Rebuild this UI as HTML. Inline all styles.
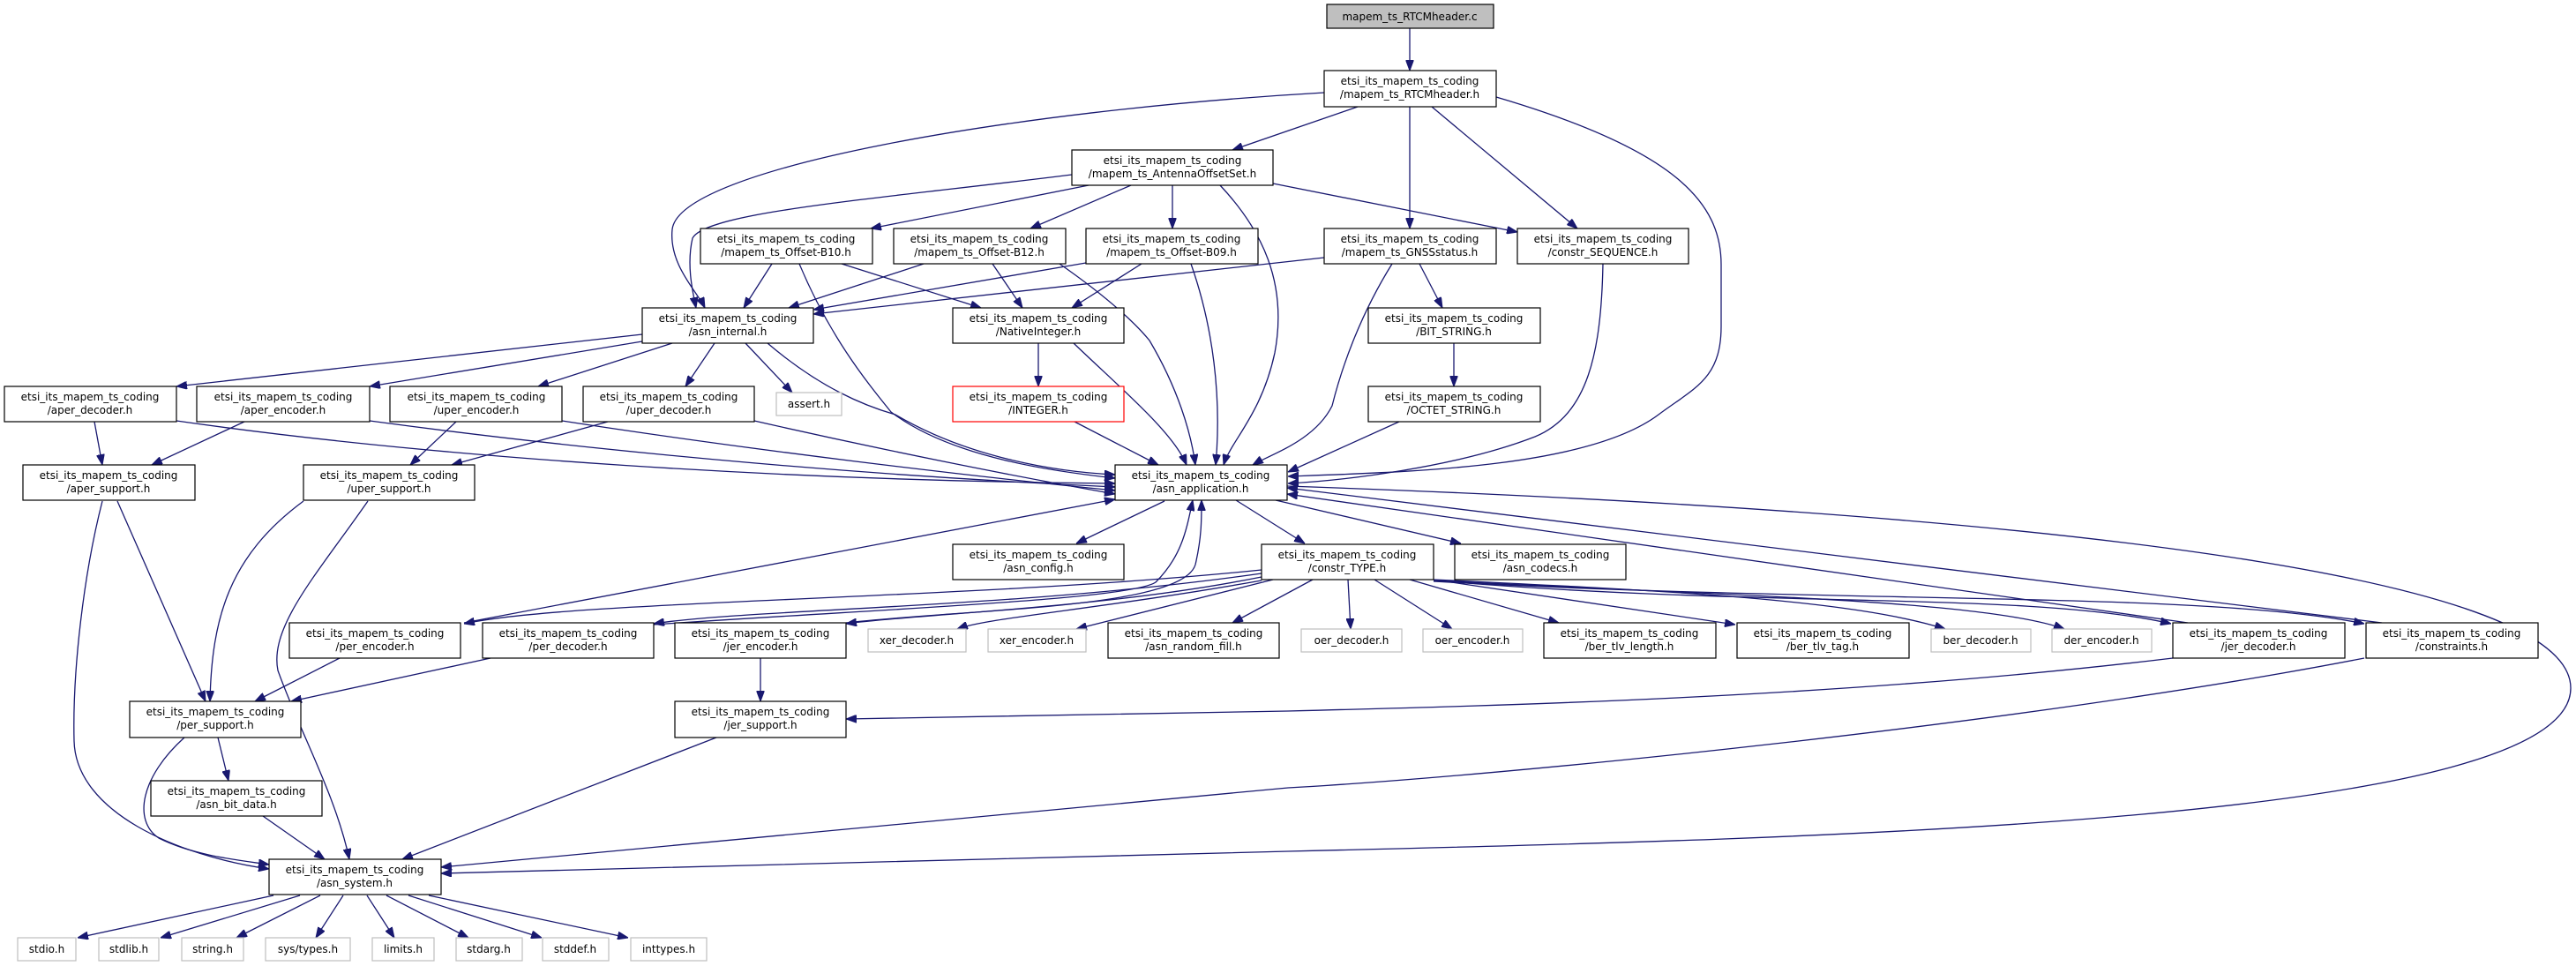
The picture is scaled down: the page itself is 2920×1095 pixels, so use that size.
<!DOCTYPE html>
<html><head><meta charset="utf-8"><style>
html,body{margin:0;padding:0;background:#fff;}
svg{display:block;}
text{font-family:"DejaVu Sans","Liberation Sans",sans-serif;font-size:12px;fill:#000;text-anchor:middle;}
.n{fill:#fff;stroke:#000;stroke-width:1.2;}
.l{fill:#fff;stroke:#bfbfbf;stroke-width:1.2;}
.e{fill:none;stroke:#191970;stroke-width:1.3;marker-end:url(#a);}
</style></head><body>
<svg width="2920" height="1095" viewBox="0 0 2920 1095" xmlns="http://www.w3.org/2000/svg">
<defs><marker id="a" markerUnits="userSpaceOnUse" markerWidth="12" markerHeight="9" refX="12" refY="4.5" orient="auto"><path d="M0,0 L12,4.5 L0,9 z" fill="#191970" stroke="#191970"/></marker></defs>

<!-- edges -->
<path class="e" d="M1598,32 L1598,80"/>
<path class="e" d="M1539,121 L1397,170"/>
<path class="e" d="M1501,105 C1150,125 770,190 762,260 C758,300 790,330 799,349"/>
<path class="e" d="M1598,121 L1598,259"/>
<path class="e" d="M1623,121 L1788,259"/>
<path class="e" d="M1696,110 C1900,170 1951,230 1951,300 L1951,370 C1951,430 1920,440 1880,470 C1800,530 1600,535 1460,540"/>
<path class="e" d="M1215,198 C1000,225 800,240 785,270 C778,300 785,330 789,349"/>
<path class="e" d="M1234,210 L987,259"/>
<path class="e" d="M1282,210 L1168,259"/>
<path class="e" d="M1329,210 L1329,259"/>
<path class="e" d="M1443,208 L1720,263"/>
<path class="e" d="M1383,210 C1430,260 1460,320 1445,400 C1430,470 1395,500 1387,527"/>
<path class="e" d="M875,299 L843,349"/>
<path class="e" d="M954,299 L1112,349"/>
<path class="e" d="M906,299 C940,380 980,430 1010,467 C1080,520 1200,535 1264,542"/>
<path class="e" d="M1047,299 L894,349"/>
<path class="e" d="M1125,299 L1159,349"/>
<path class="e" d="M1201,299 C1260,340 1290,370 1303,386 C1335,440 1350,490 1355,527"/>
<path class="e" d="M1231,298 L922,351"/>
<path class="e" d="M1294,299 L1215,349"/>
<path class="e" d="M1350,299 C1375,370 1385,450 1378,527"/>
<path class="e" d="M1501,292 L922,356"/>
<path class="e" d="M1609,299 L1635,349"/>
<path class="e" d="M1578,299 C1540,360 1520,420 1510,460 C1490,500 1440,515 1420,527"/>
<path class="e" d="M1817,299 C1815,400 1800,470 1740,495 C1650,530 1520,545 1460,548"/>
<path class="e" d="M1648,389 L1648,438"/>
<path class="e" d="M1586,478 L1460,535"/>
<path class="e" d="M728,379 L200,438"/>
<path class="e" d="M728,387 L419,438"/>
<path class="e" d="M762,389 L610,438"/>
<path class="e" d="M810,389 L777,438"/>
<path class="e" d="M845,389 L898,445"/>
<path class="e" d="M870,389 C930,440 980,460 1015,470 C1100,520 1200,535 1264,538"/>
<path class="e" d="M1177,389 L1177,438"/>
<path class="e" d="M1217,389 C1270,440 1330,490 1345,527"/>
<path class="e" d="M1218,478 L1313,527"/>
<path class="e" d="M107,478 L116,527"/>
<path class="e" d="M200,477 C500,520 900,545 1264,548"/>
<path class="e" d="M277,478 L172,527"/>
<path class="e" d="M419,477 C700,515 1000,540 1264,552"/>
<path class="e" d="M517,478 L465,527"/>
<path class="e" d="M637,477 C850,510 1100,540 1264,556"/>
<path class="e" d="M689,478 L512,527"/>
<path class="e" d="M855,477 C1000,510 1150,540 1264,560"/>
<path class="e" d="M133,568 L233,795"/>
<path class="e" d="M116,568 C95,650 82,760 84,840 C86,920 200,970 305,985"/>
<path class="e" d="M344,568 C260,630 240,700 238,795"/>
<path class="e" d="M417,568 C360,650 305,710 315,760 C340,830 380,900 396,974"/>
<path class="e" d="M1320,568 L1220,616"/>
<path class="e" d="M1401,567 L1479,616"/>
<path class="e" d="M1446,567 L1656,616"/>
<path class="e" d="M1459,551 C2300,580 2914,650 2914,780 C2914,930 2100,950 1460,965 C1000,975 700,985 500,990"/>
<path class="e" d="M526,706 L1264,566"/>
<path class="e" d="M741,708 C1000,690 1280,680 1310,660 C1340,630 1345,600 1352,567"/>
<path class="e" d="M959,706 C1100,690 1340,690 1355,640 C1362,610 1362,590 1362,567"/>
<path class="e" d="M2480,706 L1459,560"/>
<path class="e" d="M2700,706 L1459,553"/>
<path class="e" d="M1430,646 C1100,680 650,680 526,707"/>
<path class="e" d="M1430,650 C1150,690 850,690 741,707"/>
<path class="e" d="M1430,654 C1250,690 1050,695 959,707"/>
<path class="e" d="M1430,658 C1250,690 1120,700 1085,713"/>
<path class="e" d="M1443,657 L1220,713"/>
<path class="e" d="M1488,657 L1397,706"/>
<path class="e" d="M1528,657 L1531,713"/>
<path class="e" d="M1558,657 L1646,713"/>
<path class="e" d="M1598,657 L1767,706"/>
<path class="e" d="M1625,657 L1967,708"/>
<path class="e" d="M1625,657 C1900,670 2100,680 2205,713"/>
<path class="e" d="M1625,658 C1950,675 2250,680 2340,713"/>
<path class="e" d="M1625,658 C2000,690 2300,670 2461,707"/>
<path class="e" d="M1625,659 C2100,685 2500,670 2680,707"/>
<path class="e" d="M385,746 L289,795"/>
<path class="e" d="M556,746 L330,795"/>
<path class="e" d="M862,746 L862,795"/>
<path class="e" d="M2463,746 C2100,790 1700,800 1460,806 L959,815"/>
<path class="e" d="M247,836 L259,885"/>
<path class="e" d="M209,836 C160,880 150,930 180,950 C220,970 270,975 305,980"/>
<path class="e" d="M298,925 L368,974"/>
<path class="e" d="M812,836 L456,974"/>
<path class="e" d="M2680,746 C2300,820 1700,880 1460,893 L500,983"/>
<path class="e" d="M310,1015 L88,1063"/>
<path class="e" d="M340,1015 L182,1063"/>
<path class="e" d="M363,1015 L268,1063"/>
<path class="e" d="M389,1015 L358,1063"/>
<path class="e" d="M416,1015 L447,1063"/>
<path class="e" d="M438,1015 L531,1063"/>
<path class="e" d="M463,1015 L614,1063"/>
<path class="e" d="M486,1015 L712,1063"/>

<!-- nodes -->
<rect x="1504" y="5" width="189" height="27" fill="#bfbfbf" stroke="#000" stroke-width="1.2"/><text x="1598" y="23">mapem_ts_RTCMheader.c</text>

<rect class="n" x="1501" y="80" width="195" height="41"/><text x="1598" y="96">etsi_its_mapem_ts_coding</text><text x="1598" y="111">/mapem_ts_RTCMheader.h</text>
<rect class="n" x="1215" y="170" width="228" height="40"/><text x="1329" y="186">etsi_its_mapem_ts_coding</text><text x="1329" y="201">/mapem_ts_AntennaOffsetSet.h</text>
<rect class="n" x="794" y="259" width="195" height="40"/><text x="891" y="275">etsi_its_mapem_ts_coding</text><text x="891" y="290">/mapem_ts_Offset-B10.h</text>
<rect class="n" x="1013" y="259" width="195" height="40"/><text x="1110" y="275">etsi_its_mapem_ts_coding</text><text x="1110" y="290">/mapem_ts_Offset-B12.h</text>
<rect class="n" x="1231" y="259" width="195" height="40"/><text x="1328" y="275">etsi_its_mapem_ts_coding</text><text x="1328" y="290">/mapem_ts_Offset-B09.h</text>
<rect class="n" x="1501" y="259" width="195" height="40"/><text x="1598" y="275">etsi_its_mapem_ts_coding</text><text x="1598" y="290">/mapem_ts_GNSSstatus.h</text>
<rect class="n" x="1720" y="259" width="194" height="40"/><text x="1817" y="275">etsi_its_mapem_ts_coding</text><text x="1817" y="290">/constr_SEQUENCE.h</text>
<rect class="n" x="728" y="349" width="194" height="40"/><text x="825" y="365">etsi_its_mapem_ts_coding</text><text x="825" y="380">/asn_internal.h</text>
<rect class="n" x="1080" y="349" width="194" height="40"/><text x="1177" y="365">etsi_its_mapem_ts_coding</text><text x="1177" y="380">/NativeInteger.h</text>
<rect class="n" x="1551" y="349" width="195" height="40"/><text x="1648" y="365">etsi_its_mapem_ts_coding</text><text x="1648" y="380">/BIT_STRING.h</text>
<rect class="n" x="5" y="438" width="195" height="40"/><text x="102" y="454">etsi_its_mapem_ts_coding</text><text x="102" y="469">/aper_decoder.h</text>
<rect class="n" x="223" y="438" width="196" height="40"/><text x="321" y="454">etsi_its_mapem_ts_coding</text><text x="321" y="469">/aper_encoder.h</text>
<rect class="n" x="442" y="438" width="195" height="40"/><text x="540" y="454">etsi_its_mapem_ts_coding</text><text x="540" y="469">/uper_encoder.h</text>
<rect class="n" x="661" y="438" width="194" height="40"/><text x="758" y="454">etsi_its_mapem_ts_coding</text><text x="758" y="469">/uper_decoder.h</text>
<rect class="l" x="880" y="445" width="74" height="26"/><text x="917" y="462">assert.h</text>
<rect x="1080" y="438" width="194" height="40" fill="#fff" stroke="#ff0000" stroke-width="1.2"/><text x="1177" y="454">etsi_its_mapem_ts_coding</text><text x="1177" y="469">/INTEGER.h</text>
<rect class="n" x="1551" y="438" width="195" height="40"/><text x="1648" y="454">etsi_its_mapem_ts_coding</text><text x="1648" y="469">/OCTET_STRING.h</text>
<rect class="n" x="26" y="527" width="195" height="40"/><text x="123" y="543">etsi_its_mapem_ts_coding</text><text x="123" y="558">/aper_support.h</text>
<rect class="n" x="344" y="527" width="194" height="40"/><text x="441" y="543">etsi_its_mapem_ts_coding</text><text x="441" y="558">/uper_support.h</text>
<rect class="n" x="1264" y="527" width="195" height="40"/><text x="1361" y="543">etsi_its_mapem_ts_coding</text><text x="1361" y="558">/asn_application.h</text>
<rect class="n" x="1080" y="617" width="194" height="40"/><text x="1177" y="633">etsi_its_mapem_ts_coding</text><text x="1177" y="648">/asn_config.h</text>
<rect class="n" x="1430" y="617" width="195" height="40"/><text x="1527" y="633">etsi_its_mapem_ts_coding</text><text x="1527" y="648">/constr_TYPE.h</text>
<rect class="n" x="1649" y="617" width="194" height="40"/><text x="1746" y="633">etsi_its_mapem_ts_coding</text><text x="1746" y="648">/asn_codecs.h</text>
<rect class="n" x="328" y="706" width="194" height="40"/><text x="425" y="722">etsi_its_mapem_ts_coding</text><text x="425" y="737">/per_encoder.h</text>
<rect class="n" x="547" y="706" width="194" height="40"/><text x="644" y="722">etsi_its_mapem_ts_coding</text><text x="644" y="737">/per_decoder.h</text>
<rect class="n" x="765" y="706" width="194" height="40"/><text x="862" y="722">etsi_its_mapem_ts_coding</text><text x="862" y="737">/jer_encoder.h</text>
<rect class="l" x="984" y="713" width="111" height="26"/><text x="1039" y="730">xer_decoder.h</text>
<rect class="l" x="1120" y="713" width="111" height="26"/><text x="1175" y="730">xer_encoder.h</text>
<rect class="n" x="1256" y="706" width="194" height="40"/><text x="1353" y="722">etsi_its_mapem_ts_coding</text><text x="1353" y="737">/asn_random_fill.h</text>
<rect class="l" x="1475" y="713" width="114" height="26"/><text x="1532" y="730">oer_decoder.h</text>
<rect class="l" x="1613" y="713" width="113" height="26"/><text x="1669" y="730">oer_encoder.h</text>
<rect class="n" x="1750" y="706" width="195" height="40"/><text x="1847" y="722">etsi_its_mapem_ts_coding</text><text x="1847" y="737">/ber_tlv_length.h</text>
<rect class="n" x="1969" y="706" width="195" height="40"/><text x="2066" y="722">etsi_its_mapem_ts_coding</text><text x="2066" y="737">/ber_tlv_tag.h</text>
<rect class="l" x="2189" y="713" width="113" height="26"/><text x="2245" y="730">ber_decoder.h</text>
<rect class="l" x="2326" y="713" width="113" height="26"/><text x="2382" y="730">der_encoder.h</text>
<rect class="n" x="2463" y="706" width="195" height="40"/><text x="2560" y="722">etsi_its_mapem_ts_coding</text><text x="2560" y="737">/jer_decoder.h</text>
<rect class="n" x="2682" y="706" width="195" height="40"/><text x="2779" y="722">etsi_its_mapem_ts_coding</text><text x="2779" y="737">/constraints.h</text>
<rect class="n" x="147" y="795" width="194" height="41"/><text x="244" y="811">etsi_its_mapem_ts_coding</text><text x="244" y="826">/per_support.h</text>
<rect class="n" x="765" y="795" width="194" height="41"/><text x="862" y="811">etsi_its_mapem_ts_coding</text><text x="862" y="826">/jer_support.h</text>
<rect class="n" x="171" y="885" width="194" height="40"/><text x="268" y="901">etsi_its_mapem_ts_coding</text><text x="268" y="916">/asn_bit_data.h</text>
<rect class="n" x="305" y="974" width="195" height="40"/><text x="402" y="990">etsi_its_mapem_ts_coding</text><text x="402" y="1005">/asn_system.h</text>
<rect class="l" x="20" y="1063" width="66" height="26"/><text x="53" y="1080">stdio.h</text>
<rect class="l" x="112" y="1063" width="68" height="26"/><text x="146" y="1080">stdlib.h</text>
<rect class="l" x="206" y="1063" width="70" height="26"/><text x="241" y="1080">string.h</text>
<rect class="l" x="301" y="1063" width="96" height="26"/><text x="349" y="1080">sys/types.h</text>
<rect class="l" x="422" y="1063" width="70" height="26"/><text x="457" y="1080">limits.h</text>
<rect class="l" x="517" y="1063" width="75" height="26"/><text x="554" y="1080">stdarg.h</text>
<rect class="l" x="615" y="1063" width="75" height="26"/><text x="652" y="1080">stddef.h</text>
<rect class="l" x="715" y="1063" width="86" height="26"/><text x="758" y="1080">inttypes.h</text>
</svg>
</body></html>
